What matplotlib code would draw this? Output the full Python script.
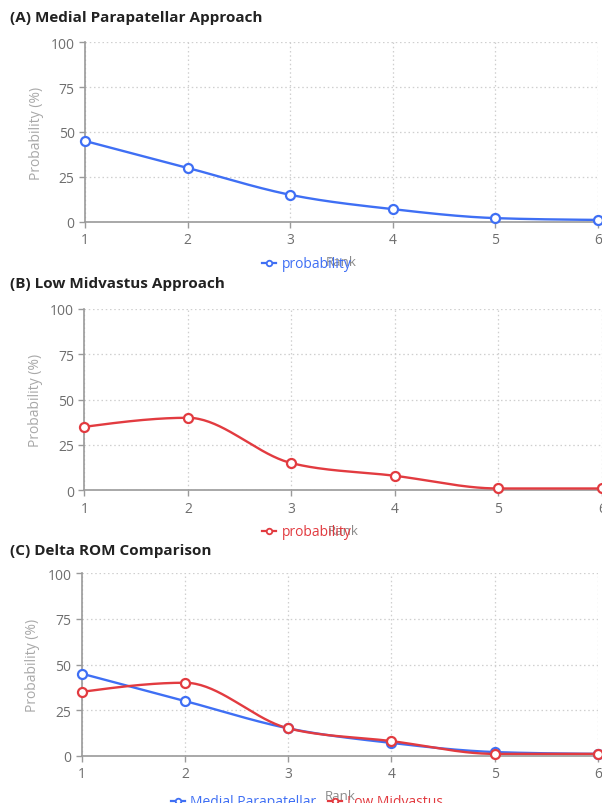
import numpy as np
import matplotlib
matplotlib.use('Agg')
import matplotlib.pyplot as plt

plt.rcParams['font.family'] = ['Open Sans', 'DejaVu Sans']

ranks = [1, 2, 3, 4, 5, 6]
medial = [45, 30, 15, 7, 2, 1]
midvastus = [35, 40, 15, 8, 1, 1]
titles = ['(A) Medial Parapatellar Approach',
          '(B) Low Midvastus Approach',
          '(C) Delta ROM Comparison']
y_ticks = [0, 25, 50, 75, 100]

BLUE = '#3f6ff4'
RED = '#e23b40'


def monotone_curve(x, y, n=40):
    # monotone cubic (like d3 curveMonotoneX), only for drawing the path
    x = np.asarray(x, float)
    y = np.asarray(y, float)
    h = np.diff(x)
    d = np.diff(y) / h
    m = np.zeros_like(y)
    for i in range(1, len(y) - 1):
        if d[i - 1] * d[i] <= 0:
            m[i] = 0
        else:
            p = (d[i - 1] * h[i] + d[i] * h[i - 1]) / (h[i - 1] + h[i])
            m[i] = (np.sign(d[i - 1]) + np.sign(d[i])) * min(abs(d[i - 1]), abs(d[i]), 0.5 * abs(p))
    m[0] = (3 * d[0] - m[1]) / 2 if len(d) > 1 else d[0]
    m[-1] = (3 * d[-1] - m[-2]) / 2
    xs, ys = [], []
    for i in range(len(h)):
        t = np.linspace(0, 1, n)
        h00 = 2 * t**3 - 3 * t**2 + 1
        h10 = t**3 - 2 * t**2 + t
        h01 = -2 * t**3 + 3 * t**2
        h11 = t**3 - t**2
        xs.extend(x[i] + t * h[i])
        ys.extend(h00 * y[i] + h10 * h[i] * m[i] + h01 * y[i + 1] + h11 * h[i] * m[i + 1])
    return np.array(xs), np.array(ys)


def draw_series(ax, values, color, label):
    cx, cy = monotone_curve(ranks, values)
    ax.plot(cx, cy, color=color, lw=1.7, clip_on=False, zorder=3)
    ax.plot(ranks, values, ls='none', marker='o', ms=6.5, mfc='white', mec=color, mew=1.6,
            clip_on=False, zorder=4)
    # legend handle
    ax.plot([], [], color=color, lw=1.6, marker='o', ms=4, mfc='white', mec=color, mew=1.3, label=label)


def style_axes(ax):
    ax.set_xlim(1, 6)
    ax.set_ylim(0, 100)
    ax.set_xticks(ranks)
    ax.set_yticks(y_ticks)
    ax.grid(True, ls=(0, (1.2, 2.2)), color='#cfcfcf', lw=0.9)
    for s in ['top', 'right']:
        ax.spines[s].set_visible(False)
    for s in ['left', 'bottom']:
        ax.spines[s].set_color('#9a9a9a')
        ax.spines[s].set_linewidth(1.2)
    ax.tick_params(colors='#9a9a9a', labelcolor='#6e6e6e', labelsize=10, length=4, width=1)
    ax.set_ylabel('Probability (%)', color='#a8a8a8', fontsize=10, labelpad=5)
    ax.set_xlabel('Rank', color='#8a8a8a', fontsize=9.5)
    ax.xaxis.set_label_coords(0.5, -0.185)


fig = plt.figure(figsize=(6.02, 8.04), dpi=100)
W, H = 602.0, 804.0

# axes boxes in pixels: x at rank 1, x at rank 6, y at 100, y at 0
boxes = [(85, 598, 43.3, 222.7), (84.3, 602, 310, 491.3), (81.7, 598, 574.3, 756.7)]
title_y = [18, 284, 551]
legend_y = [265, 533, 803]

axes = []
for (x0, x1, yt, yb) in boxes:
    ax = fig.add_axes([x0 / W, 1 - yb / H, (x1 - x0) / W, (yb - yt) / H])
    style_axes(ax)
    axes.append(ax)

draw_series(axes[0], medial, BLUE, 'probability')
draw_series(axes[1], midvastus, RED, 'probability')
draw_series(axes[2], medial, BLUE, 'Medial Parapatellar')
draw_series(axes[2], midvastus, RED, 'Low Midvastus')

for i, ax in enumerate(axes):
    fig.text(10 / W, 1 - title_y[i] / H, titles[i], fontsize=11, fontweight='bold',
             color='#222222', va='center', ha='left')
    ncol = 2 if i == 2 else 1
    ax.legend(loc='center', bbox_to_anchor=(307 / W, 1 - legend_y[i] / H),
              bbox_transform=fig.transFigure, frameon=False, ncol=ncol,
              labelcolor='linecolor', fontsize=10, handlelength=1.0,
              handletextpad=0.4, columnspacing=0.8, borderpad=0)

fig.savefig('out.png', dpi=100)
